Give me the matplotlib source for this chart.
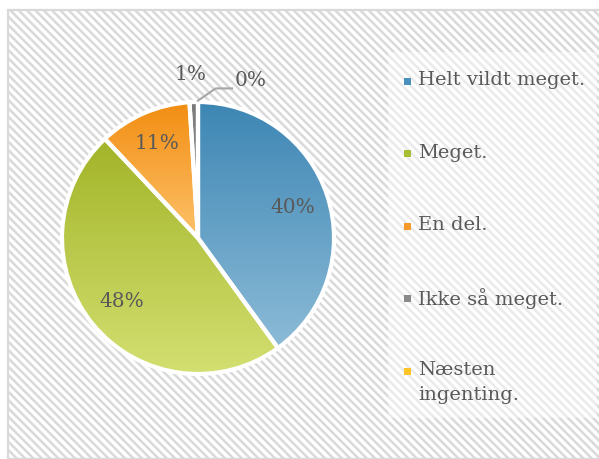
import numpy as np
import matplotlib
matplotlib.use('Agg')
import matplotlib.pyplot as plt
from matplotlib.patches import Rectangle
from matplotlib.colors import LinearSegmentedColormap

labels = ['Helt vildt meget.', 'Meget.', 'En del.', 'Ikke så meget.', 'Næsten\ningenting.']
values = [40, 48, 11, 1, 0]
# top / bottom colour of the gradient for each slice
top_colors = ['#3d86b4', '#a2b428', '#f28d12', '#7a7a7a', '#f5b800']
bottom_colors = ['#8cbbd7', '#d4e072', '#fdc26a', '#9a9a9a', '#ffd65c']
legend_colors = ['#4a90bd', '#a9bd33', '#f59a2a', '#8a8a8a', '#ffc526']

text_color = '#595959'
plt.rcParams['font.family'] = ['DejaVu Serif']
plt.rcParams['hatch.color'] = '#e8e8e8'
plt.rcParams['hatch.linewidth'] = 1.8

W, H = 599, 459
fig = plt.figure(figsize=(W / 100, H / 100), dpi=100)

# hatched chart area with a light border at left/top
bg = Rectangle((8 / W, 0), 1, 1 - 10 / H, transform=fig.transFigure,
               facecolor='white', edgecolor='#d9d9d9', linewidth=1.6,
               hatch='\\\\\\\\', zorder=-2)
fig.patches.append(bg)

# semi-transparent legend box
lbox = Rectangle((388 / W, 1 - 418 / H), (597 - 388) / W, (418 - 52) / H,
                 transform=fig.transFigure, facecolor='white', alpha=0.45,
                 edgecolor='none', zorder=-1)
fig.patches.append(lbox)

# pie axes: centre (198, 238), radius 136 px
cx, cy, r = 198, 238, 136
ax = fig.add_axes([(cx - r) / W, 1 - (cy + r) / H, 2 * r / W, 2 * r / H])
ax.patch.set_visible(False)

wedges, _ = ax.pie(values, startangle=90, counterclock=False, radius=1,
                   wedgeprops=dict(edgecolor='white', linewidth=3.0))

# gradient fill, clipped to each wedge
for w, c1, c2 in zip(wedges, top_colors, bottom_colors):
    w.set_facecolor('none')
    w.set_zorder(3)
    verts = w.get_path().vertices
    x0, x1 = verts[:, 0].min(), verts[:, 0].max()
    y0, y1 = verts[:, 1].min(), verts[:, 1].max()
    if x1 - x0 < 1e-6 or abs(w.theta2 - w.theta1) < 1e-6:
        continue
    cmap = LinearSegmentedColormap.from_list('g', [c1, c2])
    grad = np.linspace(0, 1, 256).reshape(-1, 1)
    im = ax.imshow(grad, cmap=cmap, extent=[x0, x1, y0, y1], aspect='auto',
                   origin='upper', zorder=2)
    im.set_clip_path(w)

ax.set_xlim(-1, 1)
ax.set_ylim(-1, 1)
ax.axis('off')

# percentage labels
for w, v in zip(wedges, values):
    mid = np.deg2rad((w.theta1 + w.theta2) / 2)
    txt = f'{v}%'
    if v >= 5:
        d = 0.73 if v != 11 else 0.76
        ax.text(d * np.cos(mid), d * np.sin(mid), txt, ha='center', va='center',
                fontsize=14.5, color=text_color, zorder=5)
    elif v > 0:
        ax.text(1.19 * np.cos(mid) - 0.02, 1.2 * np.sin(mid), txt, ha='center',
                va='center', fontsize=14.5, color=text_color, zorder=5)
    else:
        a = np.deg2rad(w.theta1)
        sx, sy = np.cos(a), np.sin(a)
        ax.plot([sx, sx + 0.13, sx + 0.25], [sy + 0.01, sy + 0.1, sy + 0.1],
                color='#a6a6a6', linewidth=1.5, clip_on=False, zorder=5)
        ax.text(sx + 0.27, sy + 0.155, txt, ha='left', va='center',
                fontsize=14.5, color=text_color, zorder=5)

# legend, drawn by hand so the marker sits on the first text line
for i, (lab, c) in enumerate(zip(labels, legend_colors)):
    y = 1 - (81 + 72.5 * i) / H
    fig.patches.append(Rectangle((403.5 / W, y - 3.5 / H), 7 / W, 7 / H,
                                 transform=fig.transFigure, facecolor=c,
                                 edgecolor='none'))
    fig.text(418.5 / W, y + 10 / H, lab, ha='left', va='top', fontsize=14,
             color=text_color, linespacing=1.5)

fig.savefig('out.png', dpi=100)
